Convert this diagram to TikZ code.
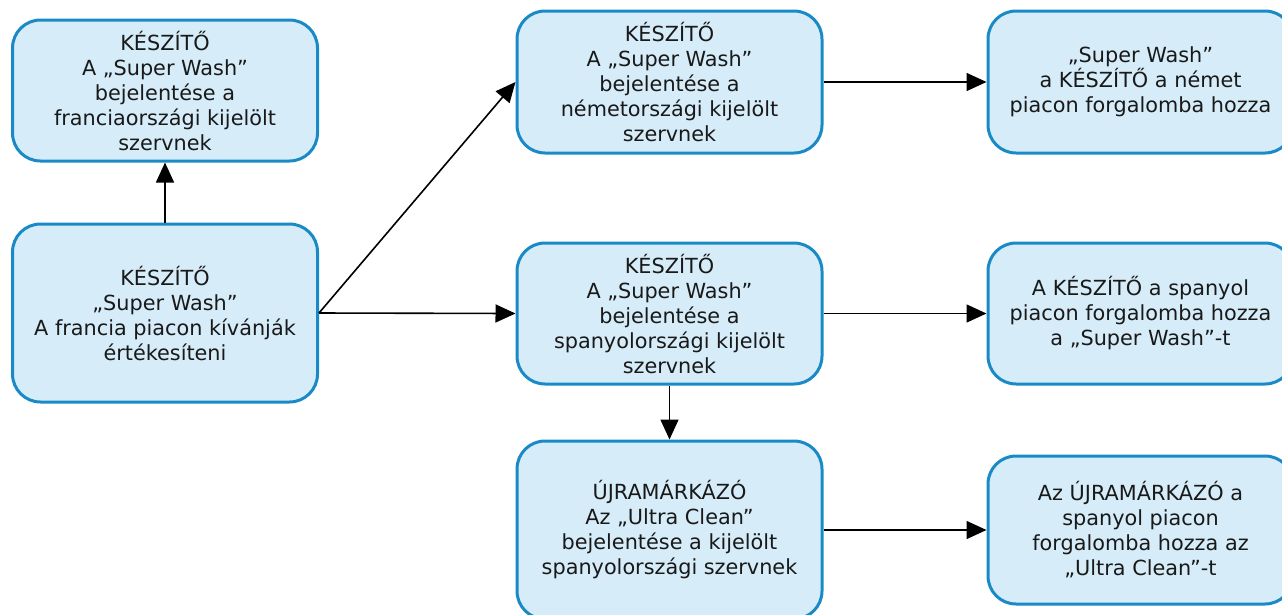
\documentclass[tikz,border=0pt]{standalone}
\usepackage{fontspec}
\setmainfont{DejaVu Sans}
\usetikzlibrary{arrows.meta}
\definecolor{boxline}{HTML}{1A8AC6}
\definecolor{boxfill}{HTML}{D6EDF9}
\begin{document}
\begin{tikzpicture}[x=1pt,y=-1pt,
  card/.style={draw=boxline, fill=boxfill, line width=3pt, rounded corners=28pt,
    minimum width=305pt, inner sep=0pt, align=center, text=black!90,
    font=\fontsize{20.8}{25}\selectfont},
  link/.style={line width=1.6pt, -{Triangle[length=20pt,width=18pt]}}]
\useasboundingbox (0,0) rectangle (1282,614);
\clip (0,0) rectangle (1282,614);
% left column
\node[card, minimum height=141pt] (fr) at (165,90.5)
  {KÉSZÍTŐ\\A „Super Wash”\\bejelentése a\\franciaországi kijelölt\\szervnek};
\node[card, minimum height=178pt] (start) at (165,313)
  {KÉSZÍTŐ\\„Super Wash”\\A francia piacon kívánják\\értékesíteni};
% middle column
\node[card, minimum height=142pt] (de) at (669.5,82)
  {KÉSZÍTŐ\\A „Super Wash”\\bejelentése a\\németországi kijelölt\\szervnek};
\node[card, minimum height=141pt] (es) at (669.5,313.5)
  {KÉSZÍTŐ\\A „Super Wash”\\bejelentése a\\spanyolországi kijelölt\\szervnek};
\node[card, minimum height=178pt] (rb) at (669.5,530)
  {ÚJRAMÁRKÁZÓ\\Az „Ultra Clean”\\bejelentése a kijelölt\\spanyolországi szervnek};
% right column
\node[card, minimum height=142pt] (demkt) at (1140.5,82)
  {„Super Wash”\\a KÉSZÍTŐ a német\\piacon forgalomba hozza};
\node[card, minimum height=141pt] (esmkt) at (1140.5,313.5)
  {A KÉSZÍTŐ a spanyol\\piacon forgalomba hozza\\a „Super Wash”-t};
\node[card, minimum height=148pt] (rbmkt) at (1140.5,530)
  {Az ÚJRAMÁRKÁZÓ a\\spanyol piacon\\forgalomba hozza az\\„Ultra Clean”-t};
% connectors
\draw[link] (start.north) -- (fr.south);
\draw[link] (start.east) -- (de.west);
\draw[link] (start.east) -- (es.west);
\draw[link] (de.east) -- (demkt.west);
\draw[link] (es.east) -- (esmkt.west);
\draw[link] (es.south) -- (rb.north);
\draw[link] (rb.east) -- (rbmkt.west);
\end{tikzpicture}
\end{document}
